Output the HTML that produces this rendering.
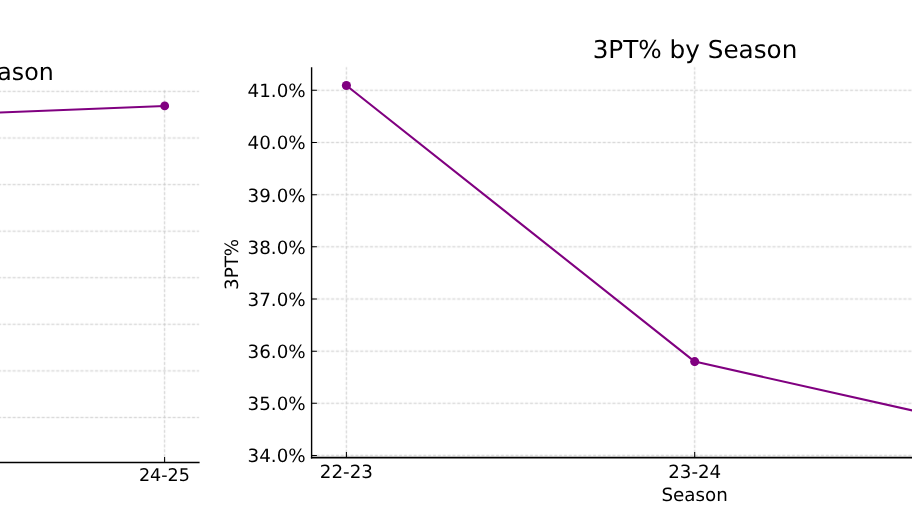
<!DOCTYPE html>
<html>
<head>
<meta charset="utf-8">
<title>3PT% by Season</title>
<style>
html,body{margin:0;padding:0;background:#fff;}
body{width:912px;height:513px;overflow:hidden;}
svg{display:block;will-change:transform;}
text{font-family:"DejaVu Sans","Liberation Sans",sans-serif;fill:#000;text-rendering:geometricPrecision;}
.tk{font-size:18.3px;}
.ttl{font-size:24.7px;}
.g{stroke:#c6c6c6;stroke-width:0.95;stroke-dasharray:3.1 1.75;fill:none;}
.sp{stroke:#000;stroke-width:1.4;fill:none;}
.t{stroke:#000;stroke-width:1.05;fill:none;}
.ln{stroke:#800080;stroke-width:2.1;fill:none;stroke-linejoin:round;}
.mk{fill:#800080;}
</style>
</head>
<body>
<svg width="912" height="513" viewBox="0 0 912 513">
<defs><filter id="soft" x="0" y="0" width="912" height="513" filterUnits="userSpaceOnUse" color-interpolation-filters="sRGB"><feConvolveMatrix order="3" kernelMatrix="1 5 1 5 25 5 1 5 1" divisor="49" edgeMode="duplicate" preserveAlpha="false"/></filter></defs>
<rect width="912" height="513" fill="#fff"/>

<!-- LEFT CHART -->
<g>
<g filter="url(#soft)"><path class="g" d="M-2 91.4H199M-2 138H199M-2 184.6H199M-2 231.2H199M-2 277.7H199M-2 324.3H199M-2 370.9H199M-2 417.5H199"/>
<path class="g" d="M164.6 462V89"/></g>
<path class="sp" style="stroke-width:1.5" d="M-2 462.4H199.6"/>
<path class="t" d="M164.6 462V457"/>
<path class="ln" style="stroke-width:2" d="M-20 113.3L164.7 105.9"/>
<circle class="mk" cx="164.7" cy="105.9" r="4.4"/>
<text class="ttl" style="font-size:23.7px" x="-2.65" y="79.6">ason</text>
<text class="tk" style="font-size:17.55px" x="164.4" y="481.2" text-anchor="middle">24-25</text>
</g>

<!-- RIGHT CHART -->
<g>
<g filter="url(#soft)"><path class="g" d="M311.7 90.3H912M311.7 142.5H912M311.7 194.7H912M311.7 246.8H912M311.7 299H912M311.7 351.2H912M311.7 403.3H912M311.7 455.4H912"/>
<path class="g" d="M346.4 457.7V67.3M694.7 457.7V67.3"/></g>
<path class="sp" d="M311.6 67.2V458.5"/><path class="sp" style="stroke-width:1.7" d="M310.9 457.7H912"/>
<path class="t" d="M311.7 90.3h5.2M311.7 142.5h5.2M311.7 194.7h5.2M311.7 246.8h5.2M311.7 299h5.2M311.7 351.2h5.2M311.7 403.3h5.2M311.7 455.4h5.2"/>
<path class="t" d="M346.4 457.7v-5.8M694.7 457.7v-5.8"/>
<path class="ln" d="M346.4 85.5L694.7 361.6L1043 439.8"/>
<circle class="mk" cx="346.4" cy="85.5" r="4.55"/>
<circle class="mk" cx="694.7" cy="361.6" r="4.55"/>
<text class="ttl" x="695" y="57.5" text-anchor="middle">3PT% by Season</text>
<g class="tk" text-anchor="end">
<text x="305.7" y="97">41.0%</text>
<text x="305.7" y="149">40.0%</text>
<text x="305.7" y="202">39.0%</text>
<text x="305.7" y="254">38.0%</text>
<text x="305.7" y="306">37.0%</text>
<text x="305.7" y="358">36.0%</text>
<text x="305.7" y="410">35.0%</text>
<text x="305.7" y="462">34.0%</text>
</g>
<text class="tk" x="346.4" y="478" text-anchor="middle">22-23</text>
<text class="tk" x="694.7" y="478" text-anchor="middle">23-24</text>
<text class="tk" x="694.7" y="500.9" text-anchor="middle">Season</text>
<text class="tk" transform="translate(237.5 264.4) rotate(-90)" text-anchor="middle">3PT%</text>
</g>
</svg>
</body>
</html>
